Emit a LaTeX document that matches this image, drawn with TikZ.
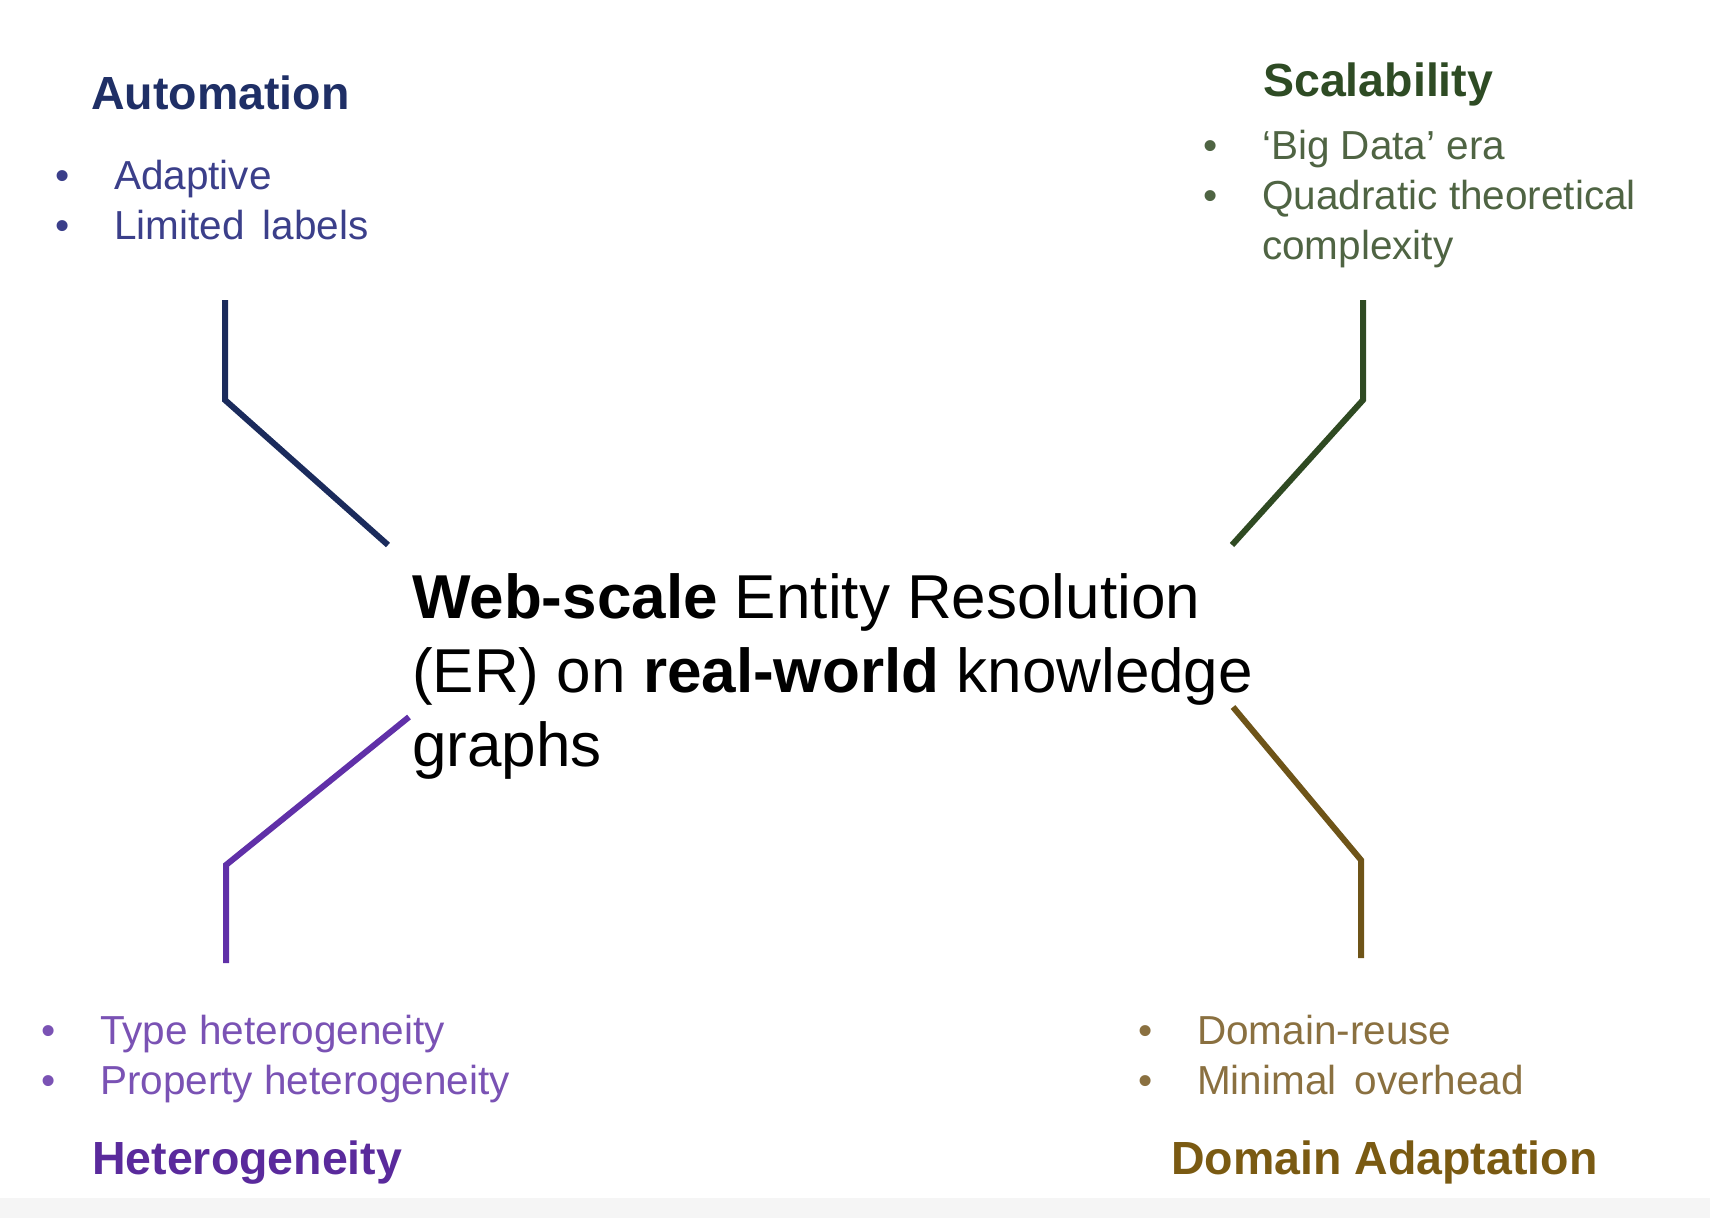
\documentclass[tikz,border=0pt]{standalone}
\usepackage{fontspec}
\setmainfont{Liberation Sans}
\usetikzlibrary{positioning}

\definecolor{autotitle}{HTML}{1F2F66}
\definecolor{autotext}{HTML}{3B3F8A}
\definecolor{autoline}{HTML}{1B2B5C}
\definecolor{scaltitle}{HTML}{2E4B24}
\definecolor{scaltext}{HTML}{4F6443}
\definecolor{scalline}{HTML}{2F4A22}
\definecolor{hettitle}{HTML}{5A2A9C}
\definecolor{hettext}{HTML}{7A52B4}
\definecolor{hetline}{HTML}{6030A8}
\definecolor{domtitle}{HTML}{7A5A12}
\definecolor{domtext}{HTML}{8A7040}
\definecolor{domline}{HTML}{6E5418}

\newcommand{\bul}[1]{\makebox[59pt][l]{\textbullet}#1}

\begin{document}
\begin{tikzpicture}[
    x=1pt, y=-1pt,
    title/.style={anchor=base west, inner sep=0pt, font=\fontsize{46.5}{56}\selectfont\bfseries},
    points/.style={anchor=base west, inner sep=0pt, align=left, font=\fontsize{40.5}{50}\selectfont},
    topic/.style={anchor=base west, inner sep=0pt, align=left, font=\fontsize{62}{74}\selectfont},
    link/.style={line width=6pt}
]
\useasboundingbox (0,0) rectangle (1710,1218);
\fill[black!4] (0,1198) rectangle (1710,1218);

% centre (anchor on the last line)
\node[topic] (er) at (412,766) {\textbf{Web-scale} Entity Resolution\\(ER) on \textbf{real-world} knowledge\\graphs};

% four challenges
\node[title, text=autotitle] (automation) at (91,109) {Automation};
\node[points, text=autotext] (autolist) at (55,239) {\bul{Adaptive}\\\bul{Limited\hspace{0.45em}labels}};

\node[title, text=scaltitle] (scalability) at (1263,96) {Scalability};
\node[points, text=scaltext] (scallist) at (1203,259) {\bul{`Big Data' era}\\\bul{Quadratic theoretical}\\\hspace*{59pt}complexity};

\node[points, text=hettext] (hetlist) at (41,1094) {\bul{Type heterogeneity}\\\bul{Property heterogeneity}};
\node[title, text=hettitle] (heterogeneity) at (92,1174) {Heterogeneity};

\node[points, text=domtext] (domlist) at (1138,1094) {\bul{Domain-reuse}\\\bul{Minimal\hspace{0.45em}overhead}};
\node[title, text=domtitle] (domain) at (1171,1174) {Domain Adaptation};

% connector ends
\coordinate (autotop) at (225,300);
\coordinate (autobend) at (225,400);
\coordinate (autoend) at (388,545);
\coordinate (scaltop) at (1363,300);
\coordinate (scalbend) at (1363,400);
\coordinate (scalend) at (1232,545);
\coordinate (hetend) at (409,717);
\coordinate (hetbend) at (226,865);
\coordinate (hetbot) at (226,963);
\coordinate (domend) at (1233,707);
\coordinate (dombend) at (1361,860);
\coordinate (dombot) at (1361,958);

\draw[link, draw=autoline] (autotop) -- (autobend) -- (autoend);
\draw[link, draw=scalline] (scaltop) -- (scalbend) -- (scalend);
\draw[link, draw=hetline] (hetend) -- (hetbend) -- (hetbot);
\draw[link, draw=domline] (domend) -- (dombend) -- (dombot);
\end{tikzpicture}
\end{document}
